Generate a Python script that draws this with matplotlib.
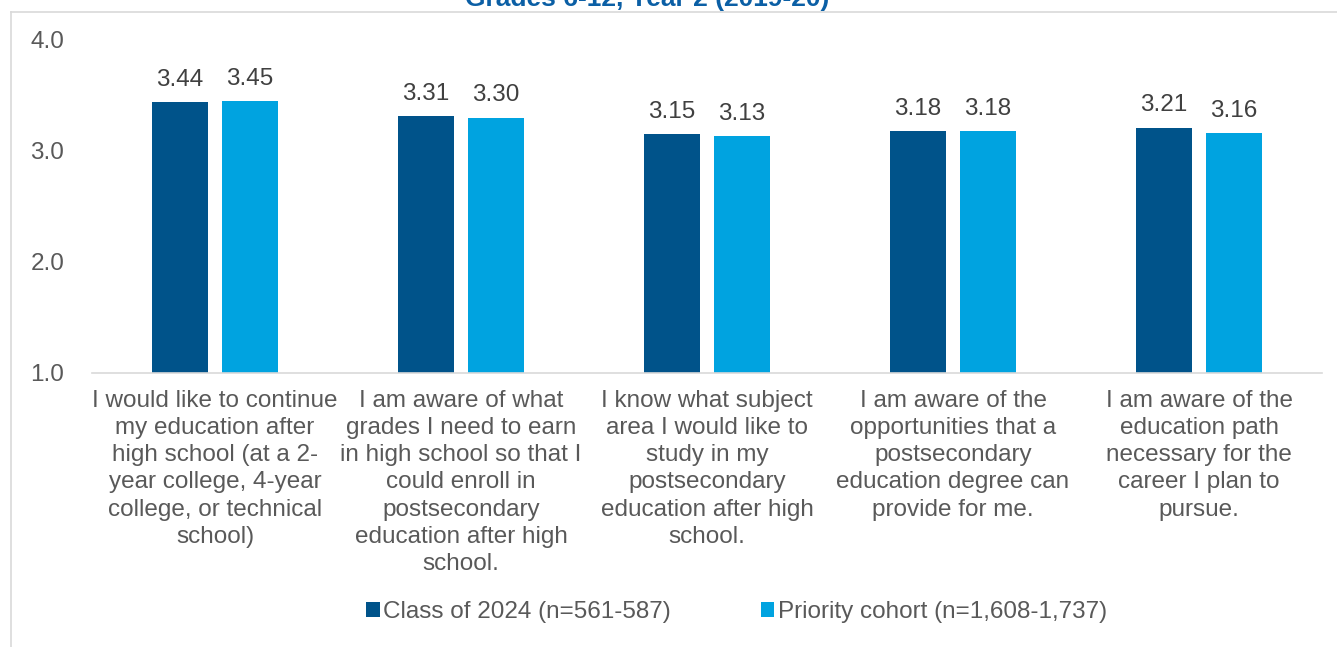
import matplotlib.pyplot as plt
import matplotlib.lines as mlines
import numpy as np

categories = [
    "I would like to continue\nmy education after\nhigh school (at a 2-\nyear college, 4-year\ncollege, or technical\nschool)",
    "I am aware of what\ngrades I need to earn\nin high school so that I\ncould enroll in\npostsecondary\neducation after high\nschool.",
    "I know what subject\narea I would like to\nstudy in my\npostsecondary\neducation after high\nschool.",
    "I am aware of the\nopportunities that a\npostsecondary\neducation degree can\nprovide for me.",
    "I am aware of the\neducation path\nnecessary for the\ncareer I plan to\npursue.",
]
class_2024 = [3.44, 3.31, 3.15, 3.18, 3.21]
priority = [3.45, 3.30, 3.13, 3.18, 3.16]
series_labels = ["Class of 2024 (n=561-587)", "Priority cohort (n=1,608-1,737)"]
title = "Grades 6-12, Year 2 (2019-20)"

DARK = "#00538A"
LIGHT = "#00A3E0"
TEXT = "#595959"
FS = 17.5

plt.rcParams["font.family"] = ["Liberation Sans", "DejaVu Sans"]

fig = plt.figure(figsize=(13.37, 6.47), dpi=100)
ax = fig.add_axes([0.0688, 0.4235, 0.92, 0.515])

x = np.arange(len(categories))
w = 0.2276
off = 0.1423
b1 = ax.bar(x - off, np.array(class_2024) - 1, w, bottom=1, color=DARK, label=series_labels[0])
b2 = ax.bar(x + off, np.array(priority) - 1, w, bottom=1, color=LIGHT, label=series_labels[1])

for bars, vals in ((b1, class_2024), (b2, priority)):
    for r, v in zip(bars, vals):
        ax.annotate(f"{v:.2f}", (r.get_x() + r.get_width() / 2, v),
                    xytext=(0, 8), textcoords="offset points",
                    ha="center", va="bottom", fontsize=FS, color="#404040")

ax.set_xlim(-0.5, len(categories) - 0.5)
ax.set_ylim(1.0, 4.0)
ax.set_yticks([1.0, 2.0, 3.0, 4.0])
ax.set_yticklabels(["1.0", "2.0", "3.0", "4.0"], fontsize=FS, color=TEXT)
ax.set_xticks(x)
ax.set_xticklabels(categories, fontsize=FS, color=TEXT, linespacing=1.31, va="top")
ax.tick_params(axis="both", length=0)
ax.tick_params(axis="x", pad=12)
ax.tick_params(axis="y", pad=20)
for s in ["top", "right", "left"]:
    ax.spines[s].set_visible(False)
ax.spines["bottom"].set_color("#D9D9D9")
ax.spines["bottom"].set_linewidth(1.2)

leg = fig.legend(handles=[b1, b2], labels=series_labels, loc="center",
                 bbox_to_anchor=(0.551, 1 - 612 / 647), ncol=2, frameon=False,
                 fontsize=FS, handlelength=0.55, handleheight=0.55, handletextpad=0.15,
                 columnspacing=3.7)
for t in leg.get_texts():
    t.set_color(TEXT)

# outer chart frame (top and left edges)
fig.add_artist(mlines.Line2D([11 / 1337, 1], [1 - 12 / 647, 1 - 12 / 647],
                             transform=fig.transFigure, color="#D9D9D9", lw=1.2))
fig.add_artist(mlines.Line2D([11 / 1337, 11 / 1337], [0, 1 - 12 / 647],
                             transform=fig.transFigure, color="#D9D9D9", lw=1.2))

fig.text(0.484, 1 - 6 / 647, title, ha="center", va="baseline",
         fontsize=19, fontweight="bold", color="#0B5FA5")

fig.savefig("out.png", dpi=100)
